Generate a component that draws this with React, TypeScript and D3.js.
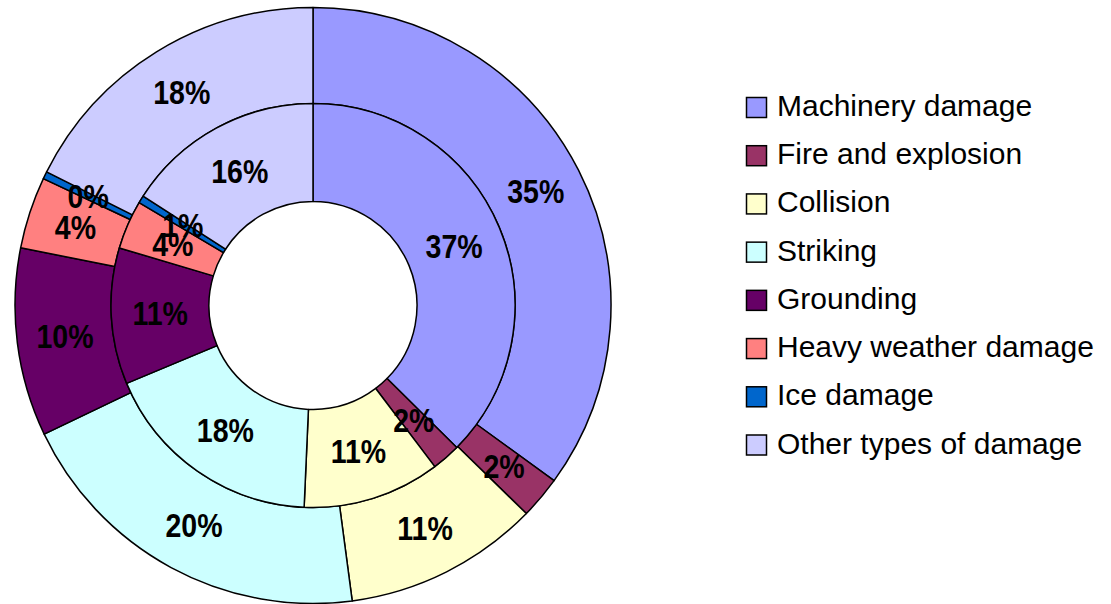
import * as d3 from "d3";

// categories, in drawing order (clockwise from 12 o'clock)
const categories = [
  "Machinery damage",
  "Fire and explosion",
  "Collision",
  "Striking",
  "Grounding",
  "Heavy weather damage",
  "Ice damage",
  "Other types of damage",
];

const colors = ["#9999FF", "#993366", "#FFFFCC", "#CCFFFF", "#660066", "#FF8080", "#0066CC", "#CCCCFF"];

// inner ring (percent share)
const innerValues = [37.4, 2.3, 11.0, 18.0, 10.9, 3.9, 0.6, 15.9];
// outer ring (percent share)
const outerValues = [35.0, 2.3, 10.6, 20.0, 10.2, 3.9, 0.4, 17.6];

const W = 1111;
const H = 604;
const cx = 313;
const cy = 305.5;
const rHole = 104;
const rMid = 202;
const rOuter = 298;

type Slice = d3.PieArcDatum<number>;

function Ring(props: { values: number[]; r0: number; r1: number }) {
  const { values, r0, r1 } = props;
  const pie = d3.pie<number>().sort(null).value((d) => d);
  const arcs = pie(values);
  const arc = d3.arc<Slice>().innerRadius(r0).outerRadius(r1);
  const total = d3.sum(values);
  return (
    <g>
      {arcs.map((a, i) => (
        <path key={"p" + i} d={arc(a) || ""} fill={colors[i]} stroke="#000" strokeWidth={1.5} strokeLinejoin="round" />
      ))}
      {arcs.map((a, i) => {
        const [x, y] = arc.centroid(a);
        // labels look narrow and tall in the original
        return (
          <text
            key={"t" + i}
            transform={`translate(${x},${y}) scale(0.84,1)`}
            textAnchor="middle"
            dominantBaseline="central"
            fontFamily="'Liberation Sans', Arial, sans-serif"
            fontWeight="bold"
            fontSize={34}
            fill="#000"
          >
            {Math.round((a.data / total) * 100) + "%"}
          </text>
        );
      })}
    </g>
  );
}

export default function App() {
  const legendY = d3.scalePoint<string>().domain(categories).range([107.5, 445]);
  return (
    <svg
      width={W}
      height={H}
      viewBox={`0 0 ${W} ${H}`}
      style={{ position: "absolute", left: 0, top: 0, background: "#fff" }}
    >
      <rect width={W} height={H} fill="#fff" />
      <g transform={`translate(${cx},${cy})`}>
        <Ring values={outerValues} r0={rMid} r1={rOuter} />
        <Ring values={innerValues} r0={rHole} r1={rMid} />
      </g>
      <g>
        {categories.map((c, i) => {
          const y = legendY(c) as number;
          return (
            <g key={c}>
              <rect x={746.5} y={y - 10} width={20} height={20} fill={colors[i]} stroke="#000" strokeWidth={1.5} />
              <text
                x={777}
                y={y}
                dy={-2}
                dominantBaseline="central"
                fontFamily="'Liberation Sans', Arial, sans-serif"
                fontSize={30}
                fill="#000"
              >
                {c}
              </text>
            </g>
          );
        })}
      </g>
    </svg>
  );
}
